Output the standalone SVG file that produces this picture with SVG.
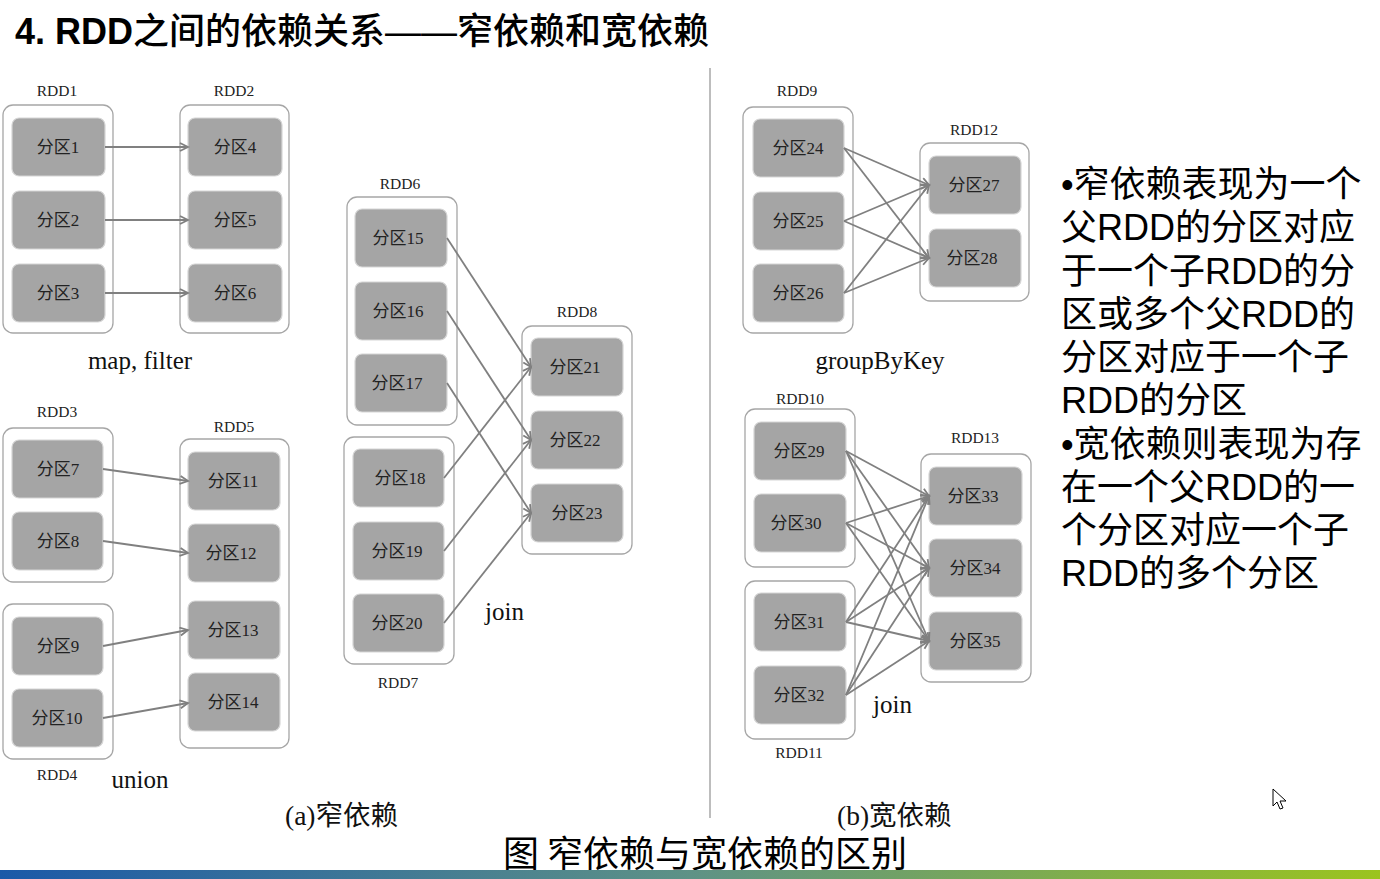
<svg xmlns="http://www.w3.org/2000/svg" width="1380" height="879" viewBox="0 0 1380 879">
  <defs>
    <style>
      .rdd { fill: #ffffff; stroke: #a6a6a6; stroke-width: 1.3; }
      .part rect { fill: #a5a5a5; stroke: #d6d6d6; stroke-width: 1.2; }
      .part text { font-family: "Liberation Serif", "Noto Sans CJK SC", serif; font-size: 17px; fill: #222222; text-anchor: middle; }
      .rlabel { font-family: "Liberation Serif", serif; font-size: 15.5px; fill: #222222; text-anchor: middle; }
      .op { font-family: "Liberation Serif", serif; font-size: 25px; fill: #111111; }
      .edge line { stroke: #808080; stroke-width: 1.8; marker-end: url(#arrow); }
      .notes { font-family: "Liberation Sans", "Noto Sans CJK SC", sans-serif; font-size: 36px; fill: #000000; }
      .cap { font-family: "Liberation Serif", "Noto Sans CJK SC", serif; fill: #111111; }
    </style>
    <marker id="arrow" markerUnits="userSpaceOnUse" markerWidth="12" markerHeight="12" refX="9" refY="5" orient="auto">
      <path d="M1,1 L9,5 L1,9" fill="none" stroke="#808080" stroke-width="1.8"/>
    </marker>
    <linearGradient id="bar" x1="0" y1="0" x2="1" y2="0">
      <stop offset="0" stop-color="#1b59a8"/>
      <stop offset="0.5" stop-color="#5e9286"/>
      <stop offset="1" stop-color="#9bc41e"/>
    </linearGradient>
  </defs>

  <rect width="1380" height="879" fill="#ffffff"/>

  <!-- heading -->
  <text x="15" y="44" font-family="'Liberation Sans', 'Noto Sans CJK SC', sans-serif" font-size="36" fill="#000"><tspan font-weight="bold">4. RDD</tspan><tspan font-weight="500">之间的依赖关系——窄依赖和宽依赖</tspan></text>

  <!-- divider between (a) and (b) -->
  <line x1="710" y1="68" x2="710" y2="818" stroke="#bdbdbd" stroke-width="2"/>

  <!-- RDD containers -->
  <g id="rdd1"><rect class="rdd" x="3" y="105" width="110" height="228" rx="10"/><text class="rlabel" x="57" y="96">RDD1</text></g>
  <g id="rdd2"><rect class="rdd" x="180" y="105" width="109" height="228" rx="10"/><text class="rlabel" x="234" y="96">RDD2</text></g>
  <g id="rdd3"><rect class="rdd" x="3" y="428" width="110" height="154" rx="10"/><text class="rlabel" x="57" y="417">RDD3</text></g>
  <g id="rdd4"><rect class="rdd" x="3" y="604" width="110" height="155" rx="10"/><text class="rlabel" x="57" y="780">RDD4</text></g>
  <g id="rdd5"><rect class="rdd" x="180" y="439" width="109" height="309" rx="10"/><text class="rlabel" x="234" y="432">RDD5</text></g>
  <g id="rdd6"><rect class="rdd" x="347" y="197" width="110" height="228" rx="10"/><text class="rlabel" x="400" y="189">RDD6</text></g>
  <g id="rdd7"><rect class="rdd" x="344" y="437" width="110" height="227" rx="10"/><text class="rlabel" x="398" y="688">RDD7</text></g>
  <g id="rdd8"><rect class="rdd" x="522" y="326" width="110" height="228" rx="10"/><text class="rlabel" x="577" y="317">RDD8</text></g>
  <g id="rdd9"><rect class="rdd" x="743" y="107" width="110" height="226" rx="10"/><text class="rlabel" x="797" y="96">RDD9</text></g>
  <g id="rdd10"><rect class="rdd" x="745" y="409" width="110" height="158" rx="10"/><text class="rlabel" x="800" y="404">RDD10</text></g>
  <g id="rdd11"><rect class="rdd" x="745" y="581" width="110" height="158" rx="10"/><text class="rlabel" x="799" y="758">RDD11</text></g>
  <g id="rdd12"><rect class="rdd" x="920" y="143" width="109" height="158" rx="10"/><text class="rlabel" x="974" y="135">RDD12</text></g>
  <g id="rdd13"><rect class="rdd" x="921" y="454" width="110" height="228" rx="10"/><text class="rlabel" x="975" y="443">RDD13</text></g>

  <!-- partitions -->
  <g id="p1" class="part"><rect x="12" y="118" width="93" height="58" rx="7"/><text x="58" y="153">分区1</text></g>
  <g id="p2" class="part"><rect x="12" y="191" width="93" height="58" rx="7"/><text x="58" y="226">分区2</text></g>
  <g id="p3" class="part"><rect x="12" y="264" width="93" height="58" rx="7"/><text x="58" y="299">分区3</text></g>
  <g id="p4" class="part"><rect x="188" y="118" width="94" height="58" rx="7"/><text x="235" y="153">分区4</text></g>
  <g id="p5" class="part"><rect x="188" y="191" width="94" height="58" rx="7"/><text x="235" y="226">分区5</text></g>
  <g id="p6" class="part"><rect x="188" y="264" width="94" height="58" rx="7"/><text x="235" y="299">分区6</text></g>
  <g id="p7" class="part"><rect x="12" y="440" width="91" height="58" rx="7"/><text x="58" y="475">分区7</text></g>
  <g id="p8" class="part"><rect x="12" y="512" width="91" height="58" rx="7"/><text x="58" y="547">分区8</text></g>
  <g id="p9" class="part"><rect x="12" y="617" width="91" height="58" rx="7"/><text x="58" y="652">分区9</text></g>
  <g id="p10" class="part"><rect x="12" y="689" width="91" height="58" rx="7"/><text x="57" y="724">分区10</text></g>
  <g id="p11" class="part"><rect x="188" y="452" width="92" height="58" rx="7"/><text x="233" y="487">分区11</text></g>
  <g id="p12" class="part"><rect x="188" y="524" width="92" height="58" rx="7"/><text x="231" y="559">分区12</text></g>
  <g id="p13" class="part"><rect x="188" y="601" width="92" height="58" rx="7"/><text x="233" y="636">分区13</text></g>
  <g id="p14" class="part"><rect x="188" y="673" width="92" height="58" rx="7"/><text x="233" y="708">分区14</text></g>
  <g id="p15" class="part"><rect x="355" y="209" width="92" height="58" rx="7"/><text x="398" y="244">分区15</text></g>
  <g id="p16" class="part"><rect x="355" y="282" width="92" height="58" rx="7"/><text x="398" y="317">分区16</text></g>
  <g id="p17" class="part"><rect x="355" y="354" width="92" height="58" rx="7"/><text x="397" y="389">分区17</text></g>
  <g id="p18" class="part"><rect x="353" y="449" width="91" height="58" rx="7"/><text x="400" y="484">分区18</text></g>
  <g id="p19" class="part"><rect x="353" y="522" width="91" height="58" rx="7"/><text x="397" y="557">分区19</text></g>
  <g id="p20" class="part"><rect x="353" y="594" width="91" height="58" rx="7"/><text x="397" y="629">分区20</text></g>
  <g id="p21" class="part"><rect x="531" y="338" width="92" height="58" rx="7"/><text x="575" y="373">分区21</text></g>
  <g id="p22" class="part"><rect x="531" y="411" width="92" height="58" rx="7"/><text x="575" y="446">分区22</text></g>
  <g id="p23" class="part"><rect x="531" y="484" width="92" height="58" rx="7"/><text x="577" y="519">分区23</text></g>
  <g id="p24" class="part"><rect x="753" y="119" width="91" height="58" rx="7"/><text x="798" y="154">分区24</text></g>
  <g id="p25" class="part"><rect x="753" y="192" width="91" height="58" rx="7"/><text x="798" y="227">分区25</text></g>
  <g id="p26" class="part"><rect x="753" y="264" width="91" height="58" rx="7"/><text x="798" y="299">分区26</text></g>
  <g id="p27" class="part"><rect x="929" y="156" width="92" height="58" rx="7"/><text x="974" y="191">分区27</text></g>
  <g id="p28" class="part"><rect x="929" y="229" width="92" height="58" rx="7"/><text x="972" y="264">分区28</text></g>
  <g id="p29" class="part"><rect x="754" y="422" width="92" height="58" rx="7"/><text x="799" y="457">分区29</text></g>
  <g id="p30" class="part"><rect x="754" y="494" width="92" height="58" rx="7"/><text x="796" y="529">分区30</text></g>
  <g id="p31" class="part"><rect x="754" y="593" width="92" height="58" rx="7"/><text x="799" y="628">分区31</text></g>
  <g id="p32" class="part"><rect x="754" y="666" width="92" height="58" rx="7"/><text x="799" y="701">分区32</text></g>
  <g id="p33" class="part"><rect x="929" y="467" width="93" height="58" rx="7"/><text x="973" y="502">分区33</text></g>
  <g id="p34" class="part"><rect x="929" y="539" width="93" height="58" rx="7"/><text x="975" y="574">分区34</text></g>
  <g id="p35" class="part"><rect x="929" y="612" width="93" height="58" rx="7"/><text x="975" y="647">分区35</text></g>

  <!-- dependency arrows -->
  <g id="connectors" class="edge">
    <line x1="105" y1="147" x2="188" y2="147"/>
    <line x1="105" y1="220" x2="188" y2="220"/>
    <line x1="105" y1="293" x2="188" y2="293"/>

    <line x1="103" y1="469" x2="188" y2="481"/>
    <line x1="103" y1="541" x2="188" y2="553"/>
    <line x1="103" y1="646" x2="188" y2="630"/>
    <line x1="103" y1="718" x2="188" y2="703"/>

    <line x1="447" y1="238" x2="531" y2="367"/>
    <line x1="447" y1="311" x2="531" y2="440"/>
    <line x1="447" y1="383" x2="531" y2="513"/>
    <line x1="444" y1="478" x2="531" y2="367"/>
    <line x1="444" y1="551" x2="531" y2="440"/>
    <line x1="444" y1="623" x2="531" y2="513"/>

    <line x1="844" y1="148" x2="929" y2="185"/>
    <line x1="844" y1="148" x2="929" y2="258"/>
    <line x1="844" y1="221" x2="929" y2="185"/>
    <line x1="844" y1="221" x2="929" y2="258"/>
    <line x1="844" y1="293" x2="929" y2="185"/>
    <line x1="844" y1="293" x2="929" y2="258"/>

    <line x1="846" y1="451" x2="929" y2="496"/>
    <line x1="846" y1="451" x2="929" y2="568"/>
    <line x1="846" y1="451" x2="929" y2="641"/>
    <line x1="846" y1="523" x2="929" y2="496"/>
    <line x1="846" y1="523" x2="929" y2="568"/>
    <line x1="846" y1="523" x2="929" y2="641"/>
    <line x1="846" y1="622" x2="929" y2="496"/>
    <line x1="846" y1="622" x2="929" y2="568"/>
    <line x1="846" y1="622" x2="929" y2="641"/>
    <line x1="846" y1="695" x2="929" y2="496"/>
    <line x1="846" y1="695" x2="929" y2="568"/>
    <line x1="846" y1="695" x2="929" y2="641"/>
  </g>

  <!-- operation names -->
  <text class="op" x="140" y="369" text-anchor="middle">map, filter</text>
  <text class="op" x="140" y="788" text-anchor="middle">union</text>
  <text class="op" x="485" y="620">join</text>
  <text class="op" x="880" y="369" text-anchor="middle">groupByKey</text>
  <text class="op" x="873" y="713">join</text>

  <!-- sub-captions -->
  <text class="cap" x="285" y="825" font-size="27.5">(a)窄依赖</text>
  <text class="cap" x="837" y="825" font-size="27.5">(b)宽依赖</text>

  <!-- explanation -->
  <g class="notes">
    <text x="1061" y="197">•窄依赖表现为一个</text>
    <text x="1061" y="240">父RDD的分区对应</text>
    <text x="1061" y="284">于一个子RDD的分</text>
    <text x="1061" y="327">区或多个父RDD的</text>
    <text x="1061" y="370">分区对应于一个子</text>
    <text x="1061" y="413">RDD的分区</text>
    <text x="1061" y="457">•宽依赖则表现为存</text>
    <text x="1061" y="500">在一个父RDD的一</text>
    <text x="1061" y="543">个分区对应一个子</text>
    <text x="1061" y="586">RDD的多个分区</text>
  </g>

  <!-- figure caption and footer band -->
  <text x="503" y="867" font-family="'Noto Sans CJK SC', sans-serif" font-size="36" fill="#000">图 窄依赖与宽依赖的区别</text>
  <rect x="0" y="870" width="1380" height="9" fill="url(#bar)"/>

  <!-- mouse pointer -->
  <path d="M1273,789 L1273,806 L1277,802 L1280,809 L1283,808 L1280,801 L1286,801 Z" fill="#ffffff" stroke="#000000" stroke-width="1"/>
</svg>
